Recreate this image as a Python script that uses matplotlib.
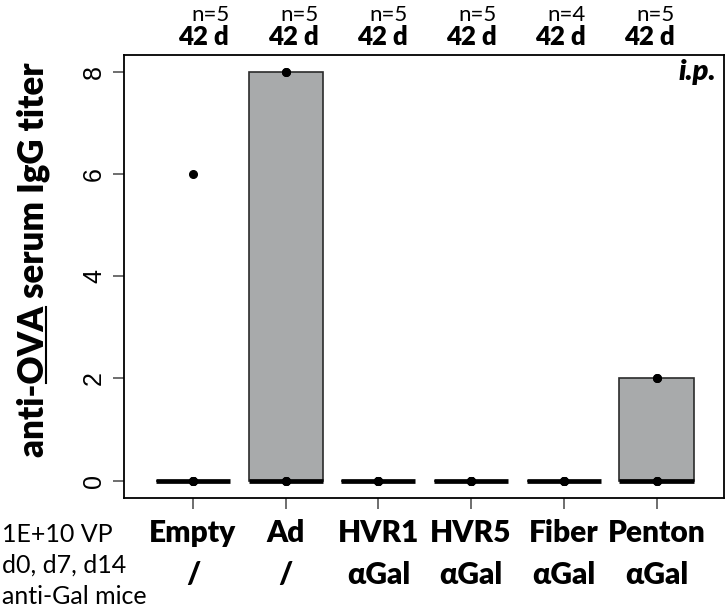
import matplotlib
matplotlib.use('Agg')
import matplotlib.pyplot as plt
import matplotlib.transforms as mtransforms
from matplotlib.lines import Line2D
import numpy as np

# ---------------- data ----------------
groups = ['Empty', 'Ad', 'HVR1', 'HVR5', 'Fiber', 'Penton']
modifications = ['/', '/', 'αGal', 'αGal', 'αGal', 'αGal']
n_mice = [5, 5, 5, 5, 4, 5]
timepoints = ['42 d', '42 d', '42 d', '42 d', '42 d', '42 d']
empty_vals = [0, 0, 0, 0, 6]
ad_vals = [0, 0, 0, 8, 8]
hvr1_vals = [0, 0, 0, 0, 0]
hvr5_vals = [0, 0, 0, 0, 0]
fiber_vals = [0, 0, 0, 0]
penton_vals = [0, 0, 0, 2, 2]
yticks = [0, 2, 4, 6, 8]
side_text = ['1E+10 VP', 'd0, d7, d14', 'anti-Gal mice']
route = 'i.p.'

data = [empty_vals, ad_vals, hvr1_vals, hvr5_vals, fiber_vals, penton_vals]

# ---------------- layout ----------------
W, H = 728, 611
FONT = ['Lato', 'DejaVu Sans']
plt.rcParams['font.family'] = FONT

fig = plt.figure(figsize=(W / 100, H / 100), dpi=100)
ax = fig.add_axes([124 / W, (H - 498) / H, 600 / W, 443 / H])

pos = np.arange(1, len(groups) + 1)
ax.boxplot(data, positions=pos, widths=0.8, patch_artist=True,
           showfliers=False, showcaps=False, whis=1.5,
           medianprops=dict(color='black', lw=3.4, solid_capstyle='butt'),
           boxprops=dict(facecolor='#a8aaab', edgecolor='#2b2b2b', lw=1.2),
           whiskerprops=dict(color='#2b2b2b', lw=1.2))
for p, vals in zip(pos, data):
    ax.plot([p] * len(vals), vals, 'o', color='black', ms=5.5, zorder=5)

ax.set_xlim(0.256, 6.728)
ax.set_ylim(-0.339, 8.327)

for s in ax.spines.values():
    s.set_linewidth(1.3)
    s.set_color('black')

ax.set_yticks(yticks)
ax.set_yticklabels([str(v) for v in yticks], rotation=90, va='center',
                   fontsize=18, family=['Liberation Sans'])
ax.tick_params(axis='y', length=8, width=1.2, color='#555555', pad=5)
ax.set_xticks(pos)
ax.set_xticklabels([])
ax.tick_params(axis='x', length=8, width=1.2, color='#555555')

# x category labels (two rows)
tr = mtransforms.blended_transform_factory(ax.transData, fig.transFigure)
for p, g, m in zip(pos, groups, modifications):
    ax.text(p, 1 - 533 / H, g, transform=tr, ha='center', va='center',
            fontsize=21.5, fontweight='heavy', family=FONT)
    ax.text(p, 1 - 575 / H, m, transform=tr, ha='center', va='center',
            fontsize=21.5, fontweight='heavy', family=FONT)

# side text at left
for i, t in enumerate(side_text):
    fig.text(2 / W, 1 - (535 + 30.5 * i) / H, t, ha='left', va='center',
             fontsize=18, family=FONT)

# top annotations
ann_x = np.linspace(1.11, 5.92, len(groups))
for x, n, t in zip(ann_x, n_mice, timepoints):
    xr = x + 0.28
    ax.text(xr, 1 - 15 / H, f'n={n}', transform=tr, ha='right', va='center',
            fontsize=16, family=FONT)
    ax.text(xr, 1 - 37 / H, t, transform=tr, ha='right', va='center',
            fontsize=18.5, fontweight='heavy', family=FONT)

# route
ax.text(716 / W, 1 - 72 / H, route, transform=fig.transFigure, ha='right',
        va='center', fontsize=21, fontweight='heavy', fontstyle='italic',
        family=FONT)

# y label with underlined "OVA"
ylabel = 'anti-OVA serum IgG titer'
lab_props = dict(fontsize=25, fontweight='heavy', family=FONT)
base_x = 43 / W
start_y = (H - 457) / H
fig.text(base_x, start_y, ylabel, rotation=90, rotation_mode='anchor',
         ha='left', va='baseline', **lab_props)
fig.canvas.draw()
r = fig.canvas.get_renderer()
def _w(s):
    t = fig.text(0, 0, s, **lab_props)
    w = t.get_window_extent(renderer=r).width
    t.remove()
    return w
w_pre = _w('anti-')
w_ova = _w('anti-OVA')
y0 = start_y + w_pre / H + 1 / H
y1 = start_y + w_ova / H - 1 / H
ux = base_x + 3 / W
fig.add_artist(Line2D([ux, ux], [y0, y1], transform=fig.transFigure,
                      color='black', lw=1.5))

fig.savefig('out.png', dpi=100)
